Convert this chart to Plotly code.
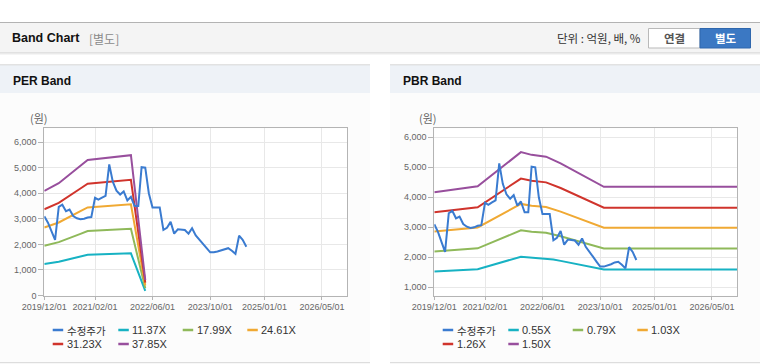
import plotly.graph_objects as go
import pandas as pd

W, H = 760, 364

# ---------------- data ----------------
price_start = "2019-12-01"
price = [3100, 2850, 2500, 2180, 3470, 3550, 3300, 3360, 3110, 3020,
         2980, 3000, 3050, 3070, 3820, 3750, 3830, 3900, 5130, 4450,
         4100, 3950, 4070, 3720, 3860, 3500, 3500, 5020, 5000, 4000,
         3440, 3440, 3440, 2570, 2650, 2880, 2420, 2590, 2580, 2560,
         2420, 2630, 2350, 2200, 2020, 1850, 1690, 1690, 1720, 1770,
         1830, 1850, 1750, 1630, 2340, 2180, 1910]
price_dates = pd.date_range(price_start, periods=len(price), freq="MS")

per_dates = ["2019-12-01", "2020-04-01", "2020-10-01", "2020-12-01", "2021-12-01", "2022-04-01"]
per_11_37 = [1228, 1319, 1524, 1592, 1649, 182]
per_17_99 = [1943, 2087, 2411, 2519, 2609, 288]
per_24_61 = [2658, 2855, 3298, 3445, 3568, 394]
per_31_23 = [3373, 3623, 4185, 4372, 4528, 500]
per_37_85 = [4088, 4391, 5072, 5299, 5488, 606]

pbr_dates = ["2019-12-01", "2020-12-01", "2021-12-01", "2022-03-01", "2022-07-01",
             "2022-09-01", "2022-11-01", "2023-11-01", "2026-12-01"]
pbr_0_55 = [1529, 1601, 2019, 1986, 1964, 1925, 1881, 1595, 1595]
pbr_0_79 = [2196, 2299, 2899, 2852, 2820, 2765, 2702, 2291, 2291]
pbr_1_03 = [2863, 2997, 3780, 3718, 3677, 3605, 3523, 2987, 2987]
pbr_1_26 = [3503, 3667, 4624, 4549, 4498, 4410, 4309, 3654, 3654]
pbr_1_50 = [4170, 4365, 5505, 5415, 5355, 5250, 5130, 4350, 4350]

x_tickvals = ["2019-12-01", "2021-02-01", "2022-06-01", "2023-10-01", "2025-01-01", "2026-05-01"]
x_ticktext = ["2019/12/01", "2021/02/01", "2022/06/01", "2023/10/01", "2025/01/01", "2026/05/01"]
x_range = ["2019-12-01", "2026-12-01"]

per_names = ["수정주가", "11.37X", "17.99X", "24.61X", "31.23X", "37.85X"]
pbr_names = ["수정주가", "0.55X", "0.79X", "1.03X", "1.26X", "1.50X"]
colors = ["#3a7bd0", "#17b2c3", "#8fb95a", "#f0a933", "#d0342c", "#984f9d"]

# ---------------- helpers ----------------
def fx(px):
    return px / W

def fy(py):
    return 1 - py / H

KFONT = "Noto Sans CJK KR"
LFONT = "Liberation Sans"

fig = go.Figure()

per_bands = [per_11_37, per_17_99, per_24_61, per_31_23, per_37_85]
pbr_bands = [pbr_0_55, pbr_0_79, pbr_1_03, pbr_1_26, pbr_1_50]

for i, band in enumerate(per_bands):
    fig.add_trace(go.Scatter(x=per_dates, y=band, mode="lines", name=per_names[i + 1],
                             line=dict(color=colors[i + 1], width=2),
                             xaxis="x", yaxis="y", showlegend=False, hoverinfo="skip"))
fig.add_trace(go.Scatter(x=price_dates, y=price, mode="lines", name=per_names[0],
                         line=dict(color=colors[0], width=2),
                         xaxis="x", yaxis="y", showlegend=False, hoverinfo="skip"))

for i, band in enumerate(pbr_bands):
    fig.add_trace(go.Scatter(x=pbr_dates, y=band, mode="lines", name=pbr_names[i + 1],
                             line=dict(color=colors[i + 1], width=2),
                             xaxis="x2", yaxis="y2", showlegend=False, hoverinfo="skip"))
fig.add_trace(go.Scatter(x=price_dates, y=price, mode="lines", name=pbr_names[0],
                         line=dict(color=colors[0], width=2),
                         xaxis="x2", yaxis="y2", showlegend=False, hoverinfo="skip"))

# ---------------- axes ----------------
plot_top, plot_bot = 128.3, 295.5
per_l, per_r = 44.3, 347.3
pbr_l, pbr_r = 434.3, 737.3

axis_common_x = dict(type="date", range=x_range, tickvals=x_tickvals, ticktext=x_ticktext,
                     tickangle=0, automargin=False,
                     showgrid=True, gridcolor="#e8e8e8", gridwidth=1,
                     showline=True, linecolor="#b4b4b4", linewidth=1, mirror=True,
                     ticks="outside", ticklen=3, tickcolor="#b4b4b4",
                     tickfont=dict(family=LFONT, size=9, color="#666"),
                     zeroline=False, fixedrange=True)
axis_common_y = dict(showgrid=True, gridcolor="#e8e8e8", gridwidth=1, automargin=False,
                     showline=True, linecolor="#b4b4b4", linewidth=1, mirror=True,
                     ticks="outside", ticklen=5, tickcolor="#b4b4b4",
                     tickformat=",d",
                     tickfont=dict(family=LFONT, size=9, color="#666"),
                     zeroline=False, fixedrange=True)

fig.update_layout(
    width=W, height=H, autosize=False,
    margin=dict(l=0, r=0, t=0, b=0, pad=0, autoexpand=False),
    paper_bgcolor="white", plot_bgcolor="white",
    showlegend=False,
    xaxis=dict(domain=[fx(per_l), fx(per_r)], anchor="y", **axis_common_x),
    yaxis=dict(domain=[fy(plot_bot), fy(plot_top)], anchor="x", range=[0, 6540],
               tickvals=[0, 1000, 2000, 3000, 4000, 5000, 6000], **axis_common_y),
    xaxis2=dict(domain=[fx(pbr_l), fx(pbr_r)], anchor="y2", **axis_common_x),
    yaxis2=dict(domain=[fy(plot_bot), fy(plot_top)], anchor="x2", range=[727, 6300],
                tickvals=[1000, 2000, 3000, 4000, 5000, 6000], **axis_common_y),
)

shapes = []
annotations = []

def rect(x0, y0, x1, y1, fill, line_color=None, lw=0, layer="below"):
    shapes.append(dict(type="rect", xref="paper", yref="paper",
                       x0=fx(x0), x1=fx(x1), y0=fy(y1), y1=fy(y0),
                       fillcolor=fill, line=dict(color=line_color or fill, width=lw),
                       layer=layer))

def hline(x0, x1, y, color, lw=1, layer="below"):
    shapes.append(dict(type="line", xref="paper", yref="paper",
                       x0=fx(x0), x1=fx(x1), y0=fy(y), y1=fy(y),
                       line=dict(color=color, width=lw), layer=layer))

def text(x, y, s, size=12, color="#333", family=KFONT, xanchor="left", bold=False):
    if bold:
        s = "<b>" + s + "</b>"
    annotations.append(dict(xref="paper", yref="paper", x=fx(x), y=fy(y), text=s,
                            showarrow=False, xanchor=xanchor, yanchor="middle",
                            borderpad=0,
                            font=dict(size=size, color=color, family=family)))

# top header bar
rect(0, 22, 760, 53, "#f4f4f4")
hline(0, 760, 22.5, "#b3b3b3", 1)
hline(0, 760, 53, "#cfcfcf", 1)
hline(0, 760, 54, "#ececec", 1)
text(11, 38.5, "Band Chart", 12.5, "#111", LFONT, bold=True)
text(87.5, 38.5, "[별도]", 12, "#8a8a8a", KFONT)
text(642, 38.5, "단위 : 억원, 배, %", 11.5, "#333", KFONT, xanchor="right")

# buttons
shapes.append(dict(type="rect", xref="paper", yref="paper", x0=fx(648.5), x1=fx(700),
                   y0=fy(48), y1=fy(28.5), fillcolor="#ffffff",
                   line=dict(color="#b9b9b9", width=1), layer="below"))
shapes.append(dict(type="rect", xref="paper", yref="paper", x0=fx(700), x1=fx(750.5),
                   y0=fy(48), y1=fy(28.5), fillcolor="#3b78c3",
                   line=dict(color="#2f67ad", width=1), layer="below"))
text(674, 38.5, "연결", 11.5, "#555", KFONT, xanchor="center", bold=True)
text(725.5, 38.5, "별도", 11.5, "#ffffff", KFONT, xanchor="center", bold=True)

# panels
for (px0, px1, title) in [(0, 370, "PER Band"), (390, 760, "PBR Band")]:
    rect(px0, 93, px1, 362.5, "#fcfcfc")
    rect(px0, 65, px1, 93, "#eef2f7")
    hline(px0, px1, 64.8, "#d6d6d6", 1)
    hline(px0, px1, 362.7, "#d6d6d6", 1)
    text(px0 + 11.5, 80.5, title, 12, "#111", LFONT, bold=True)

# plot backgrounds (white) over panel body
for (l, r) in [(per_l, per_r), (pbr_l, pbr_r)]:
    rect(l, plot_top, r, plot_bot, "#ffffff")

# units labels
text(39, 118.5, "(원)", 11, "#666", KFONT, xanchor="center")
text(428.5, 118.5, "(원)", 11, "#666", KFONT, xanchor="center")

# custom legends
leg_pos = [(52.7, 330.0), (118.3, 330.0), (182.7, 330.0), (247.3, 330.0),
           (52.7, 344.0), (118.3, 344.0)]
for off, names in [(0, per_names), (390, pbr_names)]:
    for i, nm in enumerate(names):
        lx, ly = leg_pos[i]
        lx += off
        shapes.append(dict(type="line", xref="paper", yref="paper",
                           x0=fx(lx), x1=fx(lx + 10.5), y0=fy(ly), y1=fy(ly),
                           line=dict(color=colors[i], width=2.5), layer="above"))
        if i == 0:
            text(lx + 13, ly, nm, 10.5, "#333", KFONT)
        else:
            text(lx + 13, ly, nm, 11, "#333", LFONT)

fig.update_layout(shapes=shapes, annotations=annotations)

fig.write_html("out.html", config={"displayModeBar": False},
               post_script="document.body.style.margin='0px';document.body.style.padding='0px';")
